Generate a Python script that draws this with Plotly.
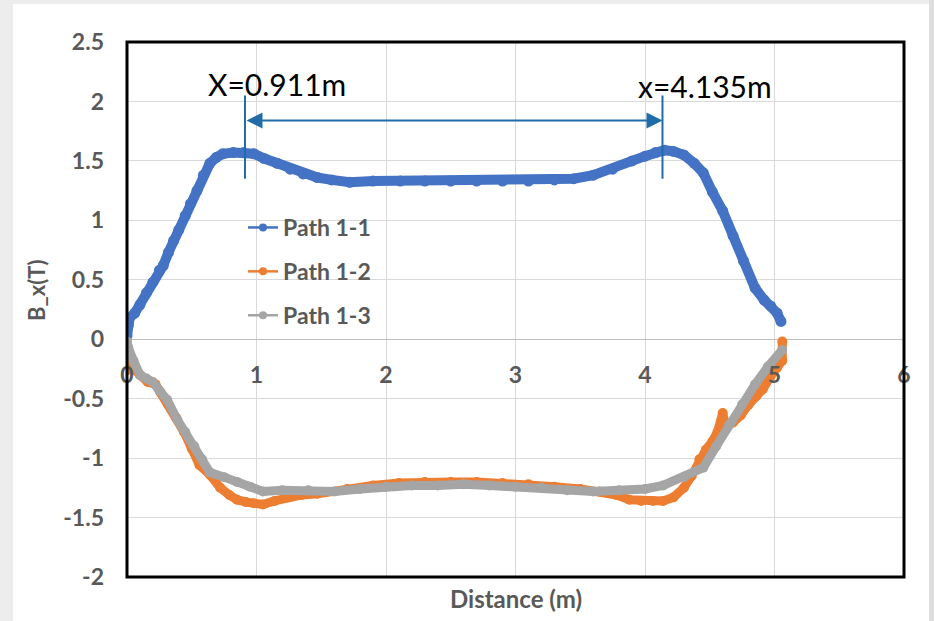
import plotly.graph_objects as go

# ---- data: B_x along three measurement paths ----
dist_11 = [0.00, 0.01, 0.02, 0.06, 0.10, 0.15, 0.20, 0.25, 0.28, 0.32, 0.36, 0.40, 0.45, 0.49,
           0.54, 0.59, 0.64, 0.69, 0.74, 0.82, 0.90, 0.98, 1.06, 1.16, 1.26, 1.36, 1.47, 1.58,
           1.72, 1.90, 2.11, 2.30, 2.50, 2.70, 2.90, 3.10, 3.30, 3.45, 3.60, 3.75, 3.90, 4.00,
           4.08, 4.15, 4.22, 4.30, 4.38, 4.45, 4.52, 4.60, 4.68, 4.76, 4.85, 4.92, 4.97, 5.02, 5.05]
bx_11 = [0.03, 0.12, 0.18, 0.22, 0.29, 0.39, 0.48, 0.58, 0.62, 0.73, 0.83, 0.92, 1.04, 1.14,
         1.25, 1.38, 1.48, 1.53, 1.56, 1.57, 1.57, 1.56, 1.52, 1.48, 1.43, 1.39, 1.36, 1.34,
         1.32, 1.33, 1.33, 1.33, 1.33, 1.33, 1.33, 1.33, 1.34, 1.35, 1.38, 1.43, 1.50, 1.54,
         1.57, 1.59, 1.58, 1.55, 1.48, 1.40, 1.24, 1.08, 0.87, 0.66, 0.43, 0.33, 0.28, 0.22, 0.15]

dist_12 = [0.00, 0.00, 0.05, 0.10, 0.16, 0.22, 0.26, 0.32, 0.38, 0.44, 0.50, 0.56, 0.64, 0.72,
           0.79, 0.85, 0.92, 0.98, 1.05, 1.14, 1.24, 1.35, 1.47, 1.70, 1.90, 2.10, 2.30, 2.50,
           2.70, 2.90, 3.10, 3.30, 3.50, 3.65, 3.78, 3.88, 3.97, 4.06, 4.14, 4.22, 4.30, 4.36,
           4.42, 4.47, 4.52, 4.56, 4.60, 4.62, 4.68, 4.74, 4.80, 4.86, 4.91, 4.96, 5.02, 5.06, 5.06]
bx_12 = [-0.12, -0.26, -0.25, -0.30, -0.36, -0.38, -0.45, -0.55, -0.66, -0.78, -0.92, -1.06,
         -1.14, -1.25, -1.31, -1.35, -1.37, -1.38, -1.39, -1.36, -1.33, -1.31, -1.30, -1.26,
         -1.23, -1.21, -1.20, -1.20, -1.20, -1.21, -1.22, -1.24, -1.26, -1.28, -1.31, -1.35,
         -1.36, -1.36, -1.36, -1.33, -1.25, -1.15, -1.01, -0.93, -0.86, -0.78, -0.62, -0.72,
         -0.70, -0.64, -0.55, -0.48, -0.42, -0.33, -0.24, -0.18, -0.02]

dist_13 = [0.00, 0.01, 0.05, 0.10, 0.15, 0.20, 0.25, 0.31, 0.39, 0.45, 0.52, 0.58, 0.64, 0.75,
           0.85, 0.95, 1.05, 1.20, 1.40, 1.60, 1.80, 2.00, 2.20, 2.40, 2.60, 2.80, 3.00, 3.20,
           3.40, 3.60, 3.80, 4.00, 4.14, 4.30, 4.45, 4.55, 4.65, 4.75, 4.85, 4.95, 5.06]
bx_13 = [-0.02, -0.07, -0.18, -0.30, -0.33, -0.36, -0.43, -0.51, -0.68, -0.78, -0.90, -1.01,
         -1.12, -1.16, -1.20, -1.24, -1.28, -1.27, -1.27, -1.28, -1.26, -1.24, -1.23, -1.23,
         -1.22, -1.23, -1.24, -1.25, -1.27, -1.28, -1.27, -1.26, -1.23, -1.16, -1.08, -0.90,
         -0.72, -0.55, -0.38, -0.23, -0.09]

series_names = ["Path 1-1", "Path 1-2", "Path 1-3"]
series_colors = ["#4472C4", "#ED7D31", "#A5A5A5"]
series_widths = [10, 9, 9]

x_ticks = [0, 1, 2, 3, 4, 5, 6]
y_ticks = [-2, -1.5, -1, -0.5, 0, 0.5, 1, 1.5, 2, 2.5]
y_tick_text = ["-2", "-1.5", "-1", "-0.5", "0", "0.5", "1", "1.5", "2", "2.5"]

peak_left = 0.911
peak_right = 4.135
label_left = "X=0.911m"
label_right = "x=4.135m"

# ---- layout geometry (pixels) ----
W, H = 934, 621
L, R, T, B = 127, 904, 42, 577
X_RANGE = [0, 6]
Y_RANGE = [-2, 2.5]


def px_x(p):
    return (p - L) / (R - L)


def px_y(p):
    return (B - p) / (B - T)


TXT = "#595959"
FONT = "Lato"
ANNOT_BLUE = "#1F6CA8"

fig = go.Figure()

series = [(dist_11, bx_11), (dist_12, bx_12), (dist_13, bx_13)]
for (xs, ys), name, col, lw in zip(series, series_names, series_colors, series_widths):
    fig.add_trace(go.Scatter(
        x=xs, y=ys, mode="lines+markers", name=name, showlegend=False,
        line=dict(color=col, width=lw, shape="linear"),
        marker=dict(color=col, size=lw + 1),
    ))

# legend entries with thin line + dot
for i, (name, col) in enumerate(zip(series_names, series_colors)):
    fig.add_trace(go.Scatter(
        x=[None], y=[None], mode="lines+markers", name=name, legendgroup=f"g{i}",
        line=dict(color=col, width=2.5), marker=dict(color=col, size=8),
    ))

# peak markers and span arrow
for xp in (peak_left, peak_right):
    fig.add_shape(type="line", xref="x", yref="y", x0=xp, x1=xp, y0=1.35, y1=2.05,
                  line=dict(color=ANNOT_BLUE, width=2))

fig.add_annotation(x=peak_right, y=1.84, ax=peak_left, ay=1.84, xref="x", yref="y",
                   axref="x", ayref="y", text="", showarrow=True, arrowside="end+start",
                   arrowhead=2, arrowsize=1.6, arrowwidth=2, arrowcolor=ANNOT_BLUE,
                   standoff=0, startstandoff=0)

fig.add_annotation(x=1.16, y=2.15, xref="x", yref="y", text=label_left, showarrow=False,
                   xanchor="center", yanchor="middle",
                   font=dict(family=FONT, size=30, color="#000000"))
fig.add_annotation(x=4.46, y=2.13, xref="x", yref="y", text=label_right, showarrow=False,
                   xanchor="center", yanchor="middle",
                   font=dict(family=FONT, size=30, color="#000000"))

# axis titles
fig.add_annotation(x=px_x(516), y=px_y(598), xref="paper", yref="paper", text="Distance (m)",
                   showarrow=False, xanchor="center", yanchor="middle",
                   font=dict(family=FONT, size=24, color=TXT, weight="bold"))
fig.add_annotation(x=px_x(36), y=px_y(290), xref="paper", yref="paper", text="B_x(T)",
                   textangle=-90, showarrow=False, xanchor="center", yanchor="middle",
                   font=dict(family=FONT, size=22, color=TXT, weight="bold"))

# outer frame strips
frame = "#EDEDED"
fig.add_shape(type="rect", xref="paper", yref="paper", x0=px_x(0), x1=px_x(13),
              y0=px_y(H), y1=px_y(0), line_width=0, fillcolor=frame, layer="below")
fig.add_shape(type="rect", xref="paper", yref="paper", x0=px_x(0), x1=px_x(W),
              y0=px_y(4), y1=px_y(0), line_width=0, fillcolor=frame, layer="below")
fig.add_shape(type="rect", xref="paper", yref="paper", x0=px_x(929), x1=px_x(W),
              y0=px_y(H), y1=px_y(0), line_width=0, fillcolor="#DEDEDE", layer="below")

# plot area border
fig.add_shape(type="rect", xref="paper", yref="paper", x0=0, x1=1, y0=0, y1=1,
              line=dict(color="#000000", width=3), layer="above")

fig.update_layout(
    width=W, height=H,
    margin=dict(l=L, r=W - R, t=T, b=H - B),
    paper_bgcolor="#FFFFFF", plot_bgcolor="#FFFFFF",
    font=dict(family=FONT, color=TXT),
    legend=dict(x=px_x(243), y=px_y(206), xanchor="left", yanchor="top",
                bgcolor="rgba(0,0,0,0)", tracegroupgap=11,
                font=dict(family=FONT, size=23, color=TXT, weight="bold")),
    xaxis=dict(range=X_RANGE, tickvals=x_ticks, anchor="free",
               position=(0 - Y_RANGE[0]) / (Y_RANGE[1] - Y_RANGE[0]),
               showline=False, zeroline=False, showgrid=True, gridcolor="#D9D9D9",
               gridwidth=1, ticks="", ticklabelstandoff=20, automargin=False,
               tickfont=dict(family=FONT, size=23, color=TXT, weight="bold")),
    yaxis=dict(range=Y_RANGE, tickvals=y_ticks, ticktext=y_tick_text,
               showline=False, zeroline=True, zerolinecolor="#BFBFBF", zerolinewidth=1,
               showgrid=True, gridcolor="#D9D9D9", gridwidth=1, ticks="",
               ticklabelstandoff=22, automargin=False,
               tickfont=dict(family=FONT, size=23, color=TXT, weight="bold")),
)

fig.write_html("out.html")
